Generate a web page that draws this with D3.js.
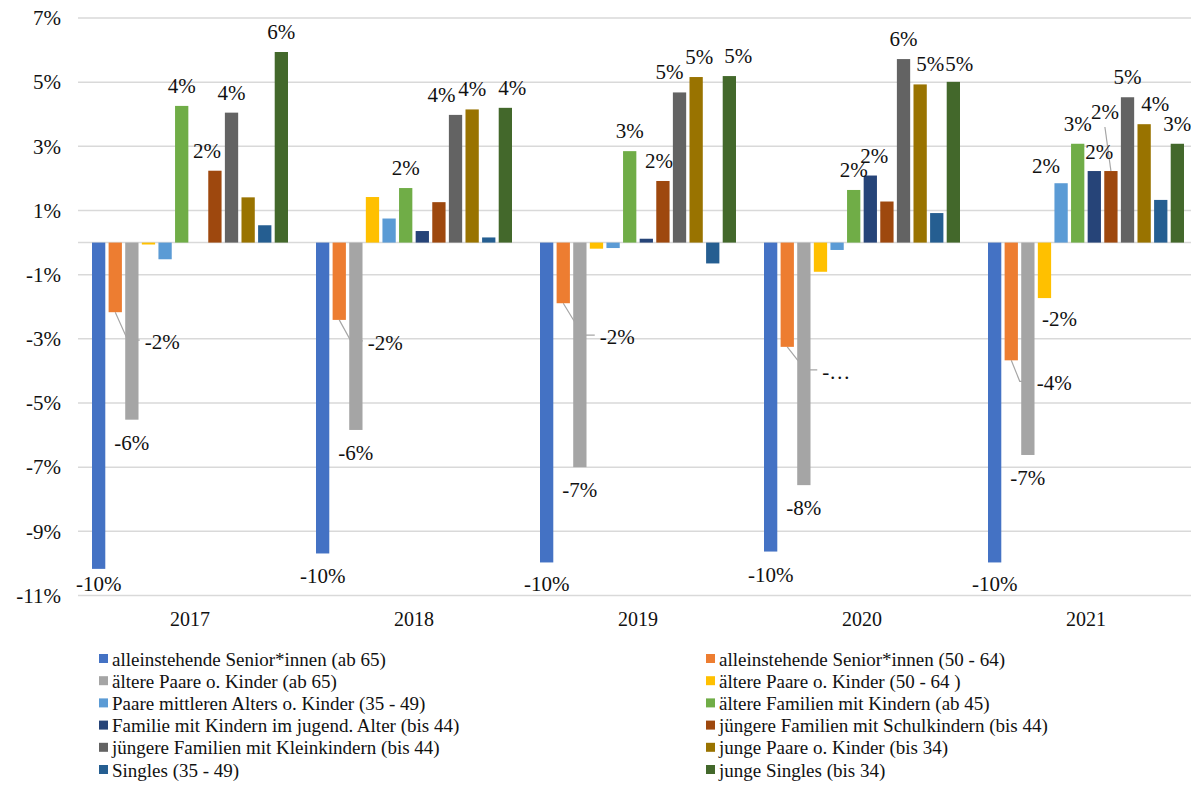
<!DOCTYPE html>
<html>
<head>
<meta charset="utf-8">
<script src="https://cdn.jsdelivr.net/npm/d3@7"></script>
<style>
  body { margin: 0; background: #fff; }
  svg { display: block; }
  svg text { font-family: "Liberation Serif", "Tinos", "Times New Roman", "DejaVu Serif", serif; fill: #111; }
</style>
</head>
<body>
<svg id="chart" width="1191" height="785"></svg>
<script>
// Veränderung der Haushaltstypen je Jahr (in %)
const years = ["2017", "2018", "2019", "2020", "2021"];
const seriesNames = [
  "alleinstehende Senior*innen (ab 65)",
  "alleinstehende Senior*innen (50 - 64)",
  "ältere Paare o. Kinder (ab 65)",
  "ältere Paare o. Kinder (50 - 64 )",
  "Paare mittleren Alters o. Kinder (35 - 49)",
  "ältere Familien mit Kindern (ab 45)",
  "Familie mit Kindern im jugend. Alter (bis 44)",
  "jüngere Familien mit Schulkindern (bis 44)",
  "jüngere Familien mit Kleinkindern (bis 44)",
  "junge Paare o. Kinder (bis 34)",
  "Singles (35 - 49)",
  "junge Singles (bis 34)"
];
const seniorsAb65        = [-10.17, -9.69, -9.97, -9.63, -9.97];
const seniors50to64      = [-2.17, -2.41, -1.89, -3.25, -3.67];
const olderCouplesAb65   = [-5.52, -5.84, -7.00, -7.56, -6.62];
const olderCouples50to64 = [-0.06, 1.42, -0.19, -0.91, -1.73];
const midAgeCouples      = [-0.52, 0.75, -0.17, -0.23, 1.85];
const olderFamilies      = [4.26, 1.70, 2.85, 1.64, 3.08];
const teenFamilies       = [0.00, 0.36, 0.12, 2.09, 2.23];
const schoolFamilies     = [2.24, 1.26, 1.92, 1.28, 2.23];
const toddlerFamilies    = [4.05, 3.98, 4.68, 5.72, 4.53];
const youngCouples       = [1.41, 4.15, 5.16, 4.93, 3.69];
const singles35to49      = [0.54, 0.16, -0.65, 0.92, 1.33];
const youngSingles       = [5.94, 4.20, 5.19, 5.01, 3.08];
const yTicks = [-11, -9, -7, -5, -3, -1, 1, 3, 5, 7];

const seriesValues = [
  seniorsAb65, seniors50to64, olderCouplesAb65, olderCouples50to64,
  midAgeCouples, olderFamilies, teenFamilies, schoolFamilies,
  toddlerFamilies, youngCouples, singles35to49, youngSingles
];
const colors = [
  "#4472C4", "#ED7D31", "#A5A5A5", "#FFC000", "#5B9BD5", "#70AD47",
  "#264478", "#9E480E", "#636363", "#997300", "#255E91", "#43682B"
];

// Label placement tweaks: [dx, dy, leader line]
const labelNudges = {
  "2017|1": [47, 7, true],  "2017|7": [-8, 0],
  "2018|1": [46, 0, true],  "2018|8": [-14, 0], "2018|11": [7, 0],
  "2019|1": [54, 11, true], "2019|7": [-4, 0],  "2019|8": [-10, 0], "2019|9": [3, 0], "2019|11": [9, 0],
  "2020|1": [49, 2, true],  "2020|6": [4, 0],   "2020|9": [10, 0],  "2020|11": [6, 2],
  "2021|1": [43, 0, true],  "2021|3": [15, -2], "2021|4": [-15, 3], "2021|6": [5, 1],
  "2021|7": [-6, -39, true], "2021|9": [11, 0]
};
// Labels shortened for lack of space
const labelText = { "2020|1": "-\u2026" };

const locale = d3.formatLocale({ decimal: ",", thousands: ".", grouping: [3], currency: ["", " €"], minus: "-", percent: "%" });
const fmt = locale.format(".0%");

const FONT = '"Liberation Serif", "Tinos", "Times New Roman", "DejaVu Serif", serif';

const bars = [];
years.forEach((year, yi) => {
  seriesValues.forEach((vals, si) => {
    bars.push({ year, si, value: vals[yi] });
  });
});

const svg = d3.select("#chart");
const plot = { left: 78, right: 1198, top: 18, bottom: 595.5 };

const y = d3.scaleLinear().domain([-11, 7]).range([plot.bottom, plot.top]);
const x0 = d3.scaleBand().domain(years).range([plot.left, plot.right])
  .paddingInner(0.125).paddingOuter(0.0625);
const x1 = d3.scaleBand().domain(d3.range(seriesNames.length))
  .range([0, x0.bandwidth()]).paddingInner(0.2).paddingOuter(0);

// Gridlines
svg.append("g").selectAll("line")
  .data(yTicks.concat([0]))
  .join("line")
  .attr("x1", plot.left).attr("x2", plot.right)
  .attr("y1", d => y(d)).attr("y2", d => y(d))
  .attr("stroke", "#d9d9d9").attr("stroke-width", 1.5);

// Y axis labels
const yAxis = d3.axisLeft(y).tickValues(yTicks).tickFormat(d => d + "%").tickSize(0).tickPadding(0);
const yg = svg.append("g").attr("transform", `translate(61,0)`).call(yAxis)
  .attr("font-family", FONT).attr("font-size", 21);
yg.select(".domain").remove();
yg.selectAll("text").attr("fill", "#111");

// X axis labels
const xAxis = d3.axisBottom(x0).tickSize(0).tickPadding(0);
const xg = svg.append("g").attr("transform", `translate(0,${plot.bottom + 16})`).call(xAxis)
  .attr("font-family", FONT).attr("font-size", 20);
xg.select(".domain").remove();
xg.selectAll("text").attr("fill", "#111");

const barX = d => x0(d.year) + x1(d.si);
const barCx = d => barX(d) + x1.bandwidth() / 2;

// Label layout
const labelled = bars.filter(d => Math.abs(d.value) >= 1.5).map(d => {
  const key = d.year + "|" + d.si;
  const nudge = labelNudges[key] || [0, 0, false];
  let cy;
  if (d.value >= 0) cy = y(d.value) - 20;
  else cy = Math.min(y(d.value) + 23, plot.bottom - 12);
  return {
    ...d,
    cx: barCx(d) + nudge[0],
    cy: cy + nudge[1],
    leader: !!nudge[2],
    text: labelText[key] || fmt(d.value / 100)
  };
});

const leaderG = svg.append("g");
const barG = svg.append("g");
const labelG = svg.append("g").attr("font-family", FONT).attr("font-size", 21);

barG.selectAll("rect")
  .data(bars)
  .join("rect")
  .attr("x", barX)
  .attr("width", x1.bandwidth())
  .attr("y", d => y(Math.max(0, d.value)))
  .attr("height", d => Math.abs(y(d.value) - y(0)))
  .attr("fill", d => colors[d.si]);

const labels = labelG.selectAll("text")
  .data(labelled)
  .join("text")
  .attr("x", d => d.cx)
  .attr("y", d => d.cy + 7)
  .attr("text-anchor", "middle")
  .text(d => d.text);

labels.each(function (d) { d.w = this.getComputedTextLength(); });

leaderG.selectAll("path")
  .data(labelled.filter(d => d.leader))
  .join("path")
  .attr("fill", "none")
  .attr("stroke", "#a6a6a6")
  .attr("stroke-width", 1.2)
  .attr("d", d => {
    if (d.value < 0) {
      const left = d.cx - d.w / 2;
      return d3.line()([[barCx(d), y(d.value)], [left - 17, d.cy - 2], [left - 5, d.cy - 2]]);
    }
    return d3.line()([[barCx(d), y(d.value)], [d.cx, d.cy + 15]]);
  });

// Legend
const legend = svg.append("g").attr("font-family", FONT).attr("font-size", 19);
const legendItems = legend.selectAll("g")
  .data(seriesNames.map((name, i) => ({ name, i })))
  .join("g")
  .attr("transform", d => {
    const col = d.i % 2, row = Math.floor(d.i / 2);
    return `translate(${col === 0 ? 99 : 706},${659 + row * 22.2})`;
  });
legendItems.append("rect")
  .attr("x", 0).attr("y", -5).attr("width", 9).attr("height", 9)
  .attr("fill", d => colors[d.i]);
legendItems.append("text")
  .attr("x", 13).attr("y", 6.5)
  .text(d => d.name);
</script>
</body>
</html>
